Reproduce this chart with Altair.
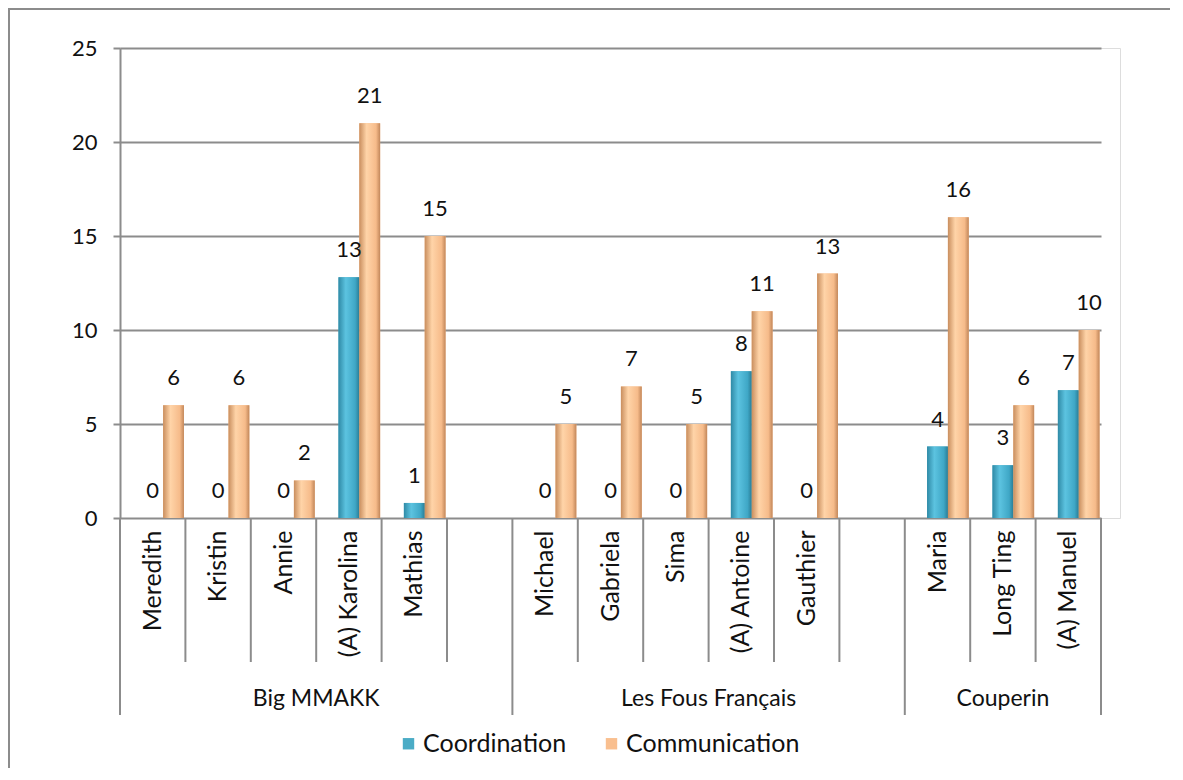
import altair as alt
import pandas as pd

members = ["Meredith", "Kristin", "Annie", "(A) Karolina", "Mathias",
           "Michael", "Gabriela", "Sima", "(A) Antoine", "Gauthier",
           "Maria", "Long Ting", "(A) Manuel"]
member_group = ["Big MMAKK"] * 5 + ["Les Fous Français"] * 5 + ["Couperin"] * 3
coordination = [0, 0, 0, 12.8, 0.8, 0, 0, 0, 7.8, 0, 3.8, 2.8, 6.8]
communication = [6, 6, 2, 21, 15, 5, 7, 5, 11, 13, 16, 6, 10]
groups = ["Big MMAKK", "Les Fous Français", "Couperin"]
group_slots = [6, 6, 3]          # members plus one empty slot for the first two
series = ["Coordination", "Communication"]
y_ticks = [0, 5, 10, 15, 20, 25]

# slot domain (empty spacer slots between groups)
slots = members[0:5] + [" "] + members[5:10] + ["  "] + members[10:13]

rows = []
for m, g, c1, c2 in zip(members, member_group, coordination, communication):
    rows.append({"slot": m, "group": g, "series": "Coordination", "value": c1})
    rows.append({"slot": m, "group": g, "series": "Communication", "value": c2})
df = pd.DataFrame(rows)

gstart, gend = [], []
s = 0
for n in group_slots:
    gstart.append(s)
    gend.append(s + n)
    s += n
gdf = pd.DataFrame({"group": groups, "start": gstart, "end": gend})
gdf["mid"] = (gdf["start"] + gdf["end"]) / 2

bounds = pd.DataFrame({"b": list(range(len(slots) + 1))})
bounds["major"] = bounds["b"].isin(gstart + [len(slots)])

PW, PH = 1000, 470
BAND_W = 981
FONT = "Lato"
GRID = "#8c8c8c"
BLUE = "#4BACC6"
ORANGE = "#F9BF8F"
TXT = "#111111"

xband = alt.X("slot:N", scale=alt.Scale(domain=slots, range=[0, BAND_W], paddingInner=0, paddingOuter=0),
              axis=alt.Axis(title=None, labelAngle=270, ticks=False, domain=False, labelPadding=12,
                            labelFontSize=25, labelFont=FONT, labelColor=TXT, labelLimit=200))
xoff = alt.XOffset("series:N", scale=alt.Scale(domain=["pad"] + series, paddingInner=0, paddingOuter=0.07))
yq = alt.Y("value:Q", scale=alt.Scale(domain=[0, 25], nice=False),
           axis=alt.Axis(title=None, values=y_ticks, grid=True, gridColor=GRID, gridWidth=2,
                         domainColor=GRID, domainWidth=2, tickColor=GRID, tickWidth=2, tickSize=7,
                         labelPadding=16, labelFontSize=22, labelFont=FONT, labelColor=TXT))

base = alt.Chart(df)

flat = base.mark_bar().encode(
    x=xband, xOffset=xoff, y=yq,
    color=alt.Color("series:N", scale=alt.Scale(domain=series, range=[BLUE, ORANGE]),
                    legend=alt.Legend(title=None, orient="none", legendX=276, legendY=683,
                                      direction="horizontal", symbolType="square", symbolSize=130,
                                      symbolStrokeWidth=0, labelFontSize=25, labelFont=FONT,
                                      labelColor=TXT, columnPadding=32, labelOffset=2,
                                      labelLimit=400)),
)

def grad(c0, c1, c2, c3):
    return alt.Gradient(gradient="linear", x1=0, x2=1, y1=0, y2=0,
                        stops=[alt.GradientStop(color=c0, offset=0),
                               alt.GradientStop(color=c1, offset=0.35),
                               alt.GradientStop(color=c2, offset=0.8),
                               alt.GradientStop(color=c3, offset=1)])

blue_bars = base.transform_filter(alt.datum.series == "Coordination").mark_bar(
    color=grad("#2F8AA6", "#5CC3E0", "#3FA7C6", "#2A7D96")).encode(x=xband, xOffset=xoff, y=yq)
orange_bars = base.transform_filter(alt.datum.series == "Communication").mark_bar(
    color=grad("#C98E5E", "#FFD4A8", "#F6BB8A", "#C2875A")).encode(x=xband, xOffset=xoff, y=yq)

labels = base.mark_text(font=FONT, fontSize=22, color=TXT, baseline="alphabetic", dy=-20).encode(
    x=xband, xOffset=xoff, y=yq, text=alt.Text("value:Q", format=".0f"))

bars_layer = alt.layer(flat, blue_bars, orange_bars, labels)

qscale = alt.Scale(domain=[0, len(slots)], range=[0, BAND_W], nice=False, zero=False)
xq = alt.X("b:Q", scale=qscale, axis=None)
minor_rules = alt.Chart(bounds).transform_filter("!datum.major").mark_rule(color=GRID, strokeWidth=2).encode(
    x=xq, y=alt.value(PH), y2=alt.value(PH + 144))
major_rules = alt.Chart(bounds).transform_filter("datum.major").mark_rule(color=GRID, strokeWidth=2).encode(
    x=xq, y=alt.value(PH), y2=alt.value(PH + 197))
group_text = alt.Chart(gdf).mark_text(font=FONT, fontSize=23, color=TXT, baseline="middle").encode(
    x=alt.X("mid:Q", scale=qscale, axis=None),
    y=alt.value(PH + 181), text="group:N")
deco_layer = alt.layer(minor_rules, major_rules, group_text)

frame = alt.Chart(gdf).transform_filter(alt.datum.group == "Couperin").mark_rect(
    fill="transparent", stroke="#8c8c8c", strokeWidth=2).encode(
    x=alt.value(-111), x2=alt.value(1200), y=alt.value(-39), y2=alt.value(900))

chart = alt.layer(bars_layer, deco_layer, frame).resolve_scale(
    x="independent").properties(
    width=PW, height=PH, autosize=alt.AutoSizeParams(type="none"),
    padding={"left": 112, "top": 40, "right": 50, "bottom": 250},
).configure_view(stroke=None).configure(background="white")

chart.save("out.html", embed_options={"renderer": "svg", "actions": False})
